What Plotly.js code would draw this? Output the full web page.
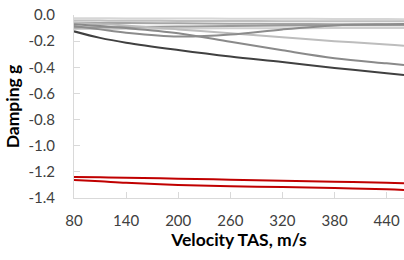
<!DOCTYPE html>
<html><head><meta charset="utf-8">
<script src="https://cdn.plot.ly/plotly-3.0.1.min.js"></script>
<style>html,body{margin:0;padding:0;background:#fff}#chart{width:404px;height:260px}</style>
</head><body><div id="chart"></div>
<script>
const velocity = [80, 110, 140, 200, 260, 320, 380, 440, 460];

const modeDark   = [-0.125, -0.175, -0.212, -0.268, -0.318, -0.360, -0.405, -0.445, -0.459];
const modeA      = [-0.070, -0.085, -0.100, -0.140, -0.205, -0.270, -0.330, -0.370, -0.383];
const modeB      = [-0.085, -0.110, -0.135, -0.165, -0.150, -0.110, -0.080, -0.070, -0.068];
const modeC      = [-0.060, -0.070, -0.080, -0.110, -0.140, -0.170, -0.200, -0.225, -0.235];
const modeD      = [-0.025, -0.025, -0.026, -0.027, -0.028, -0.029, -0.030, -0.031, -0.032];
const modeE      = [-0.042, -0.043, -0.044, -0.045, -0.046, -0.047, -0.048, -0.048, -0.048];
const modeF      = [-0.060, -0.061, -0.062, -0.064, -0.066, -0.068, -0.070, -0.072, -0.073];
const modeG      = [-0.095, -0.094, -0.092, -0.088, -0.084, -0.081, -0.079, -0.078, -0.078];
const modeH      = [-0.108, -0.107, -0.106, -0.104, -0.102, -0.101, -0.100, -0.100, -0.100];
const redUpper   = [-1.240, -1.242, -1.245, -1.252, -1.260, -1.268, -1.276, -1.283, -1.288];
const redLower   = [-1.262, -1.272, -1.284, -1.300, -1.310, -1.316, -1.324, -1.334, -1.339];

const series = [
  [modeD, '#d6d6d6'], [modeE, '#bfbfbf'], [modeF, '#a6a6a6'], [modeH, '#cfcfcf'],
  [modeG, '#9a9a9a'], [modeC, '#bdbdbd'], [modeB, '#8c8c8c'], [modeA, '#8a8a8a'],
  [modeDark, '#404040'], [redUpper, '#c00000'], [redLower, '#c00000']
];

const traces = series.map(([ys, c]) => ({
  x: velocity, y: ys, type: 'scatter', mode: 'lines',
  line: {color: c, width: 2, shape: 'spline', smoothing: 1},
  hoverinfo: 'skip', showlegend: false
}));

const font = 'Lato, "Open Sans", "Liberation Sans", sans-serif';
const layout = {
  width: 404, height: 260,
  margin: {l: 74, r: 0, t: 15, b: 62},
  paper_bgcolor: '#fff', plot_bgcolor: '#fff',
  showlegend: false,
  xaxis: {
    range: [80, 460], tickvals: [80, 140, 200, 260, 320, 380, 440],
    ticktext: ['80', '140', '200', '260', '320', '380', '440'],
    showgrid: false, zeroline: false, showline: true, linecolor: '#d9d9d9', linewidth: 1,
    ticks: 'inside', ticklen: 6, tickcolor: '#d9d9d9',
    tickfont: {family: font, size: 15, color: '#404040'},
    ticklabelstandoff: 9,
    title: {text: '<b>Velocity TAS, m/s</b>', font: {family: font, size: 17.5, color: '#000'}, standoff: 2}
  },
  yaxis: {
    range: [-1.4, 0], tickvals: [0, -0.2, -0.4, -0.6, -0.8, -1.0, -1.2, -1.4],
    ticktext: ['0.0', '-0.2', '-0.4', '-0.6', '-0.8', '-1.0', '-1.2', '-1.4'],
    showgrid: false, zeroline: false, showline: true, linecolor: '#d9d9d9', linewidth: 1,
    ticks: 'inside', ticklen: 6, tickcolor: '#d9d9d9',
    tickfont: {family: font, size: 15, color: '#404040'},
    ticklabelstandoff: 15,
    title: {text: '<b>Damping g</b>', font: {family: font, size: 17.5, color: '#000'}, standoff: 4}
  }
};
Plotly.newPlot('chart', traces, layout, {staticPlot: true, displayModeBar: false});
</script></body></html>
